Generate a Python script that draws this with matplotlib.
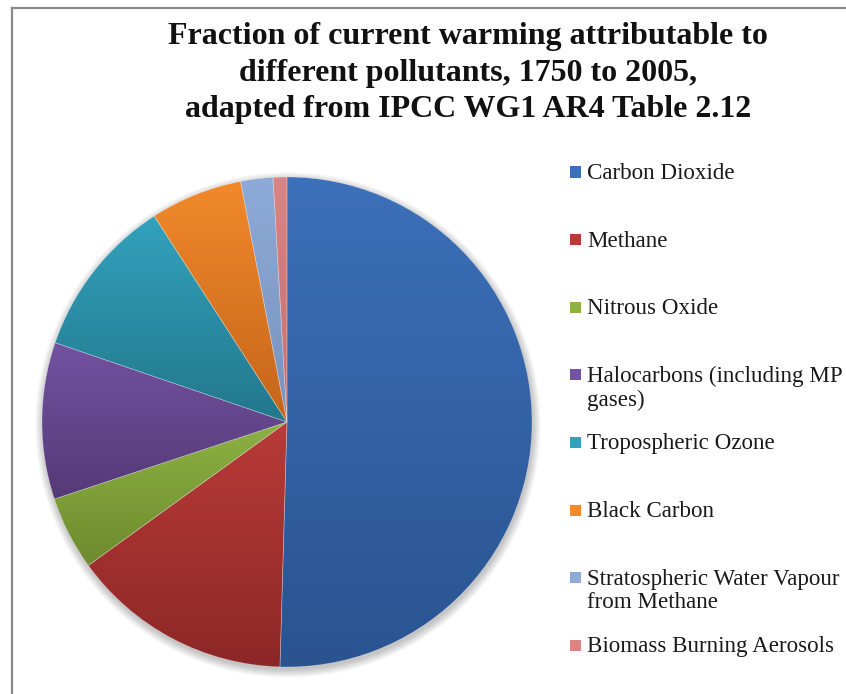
import numpy as np
import matplotlib.pyplot as plt
from matplotlib.colors import LinearSegmentedColormap
from matplotlib.patches import Circle, Rectangle
from matplotlib.lines import Line2D

# Радиационный форсинг, Вт/м2 (IPCC AR4, табл. 2.12)
labels = ['Carbon Dioxide', 'Methane', 'Nitrous Oxide',
          'Halocarbons (including MP\ngases)', 'Tropospheric Ozone',
          'Black Carbon', 'Stratospheric Water Vapour\nfrom Methane',
          'Biomass Burning Aerosols']
forcing = [1.66, 0.48, 0.16, 0.34, 0.35, 0.20, 0.07, 0.03]

# верх / низ градиента каждого сектора
top_colors = ['#3C70BA', '#B93B38', '#8DB243', '#7352A1', '#33A2BD', '#F2892B', '#8EAAD8', '#DA8584']
bottom_colors = ['#2A5390', '#8C2727', '#6D8B2E', '#553977', '#22778C', '#C4651B', '#7892BC', '#C46E6E']

title = ('Fraction of current warming attributable to\n'
         'different pollutants, 1750 to 2005,\n'
         'adapted from IPCC WG1 AR4 Table 2.12')

plt.rcParams['font.family'] = ['Liberation Serif', 'DejaVu Serif']

W, H = 846, 694
fig = plt.figure(figsize=(W / 100, H / 100), dpi=100)

# рамка области диаграммы (обрезана справа и снизу)
fig.add_artist(Line2D([12 / W, 12 / W], [0, 1 - 8 / H], color='#8a8a8a', lw=1.6))
fig.add_artist(Line2D([12 / W, 1], [1 - 8 / H, 1 - 8 / H], color='#8a8a8a', lw=1.6))

fig.text(468 / W, 1 - 22 / H, title, ha='center', va='top', fontsize=23,
         fontweight='bold', linespacing=1.35, color='#111111')

# круг: центр и радиус в пикселях
R, cx, cy, lim = 245, 287, 422, 1.06
ax = fig.add_axes([(cx - R * lim) / W, (H - cy - R * lim) / H, 2 * R * lim / W, 2 * R * lim / H])

# мягкая тень
for k in range(10):
    ax.add_patch(Circle((0.004, -0.012), 1 + 0.0035 * k, color='black', alpha=0.025, lw=0, zorder=0))

wedges, _ = ax.pie(forcing, startangle=90, counterclock=False, colors=bottom_colors,
                   radius=1, wedgeprops=dict(linewidth=0))

grad = np.linspace(0, 1, 256).reshape(-1, 1)
for w, c0, c1 in zip(wedges, top_colors, bottom_colors):
    ext = w.get_path().get_extents()
    cmap = LinearSegmentedColormap.from_list('g', [c1, c0])
    im = ax.imshow(grad, extent=[ext.x0, ext.x1, ext.y0, ext.y1], origin='lower',
                   cmap=cmap, aspect='auto', zorder=2, interpolation='bilinear')
    im.set_clip_path(w)
    w.set_facecolor('none')
    w.set_edgecolor((1, 1, 1, 0.3))
    w.set_linewidth(0.5)
    w.set_zorder(3)

ax.set_xlim(-lim, lim)
ax.set_ylim(-lim, lim)
ax.set_aspect('equal')
ax.axis('off')

# легенда: равный шаг по первой строке
y0, step = 172, 67.6
for i, (lab, col) in enumerate(zip(labels, top_colors)):
    yc = y0 + i * step
    fig.add_artist(Rectangle((570 / W, 1 - (yc + 5.5) / H), 11 / W, 11 / H,
                             facecolor=col, edgecolor='none'))
    fig.text(587 / W, 1 - (yc - 9) / H, lab, ha='left', va='top', fontsize=16.6,
             linespacing=1.18, color='#1a1a1a')

fig.savefig('out.png', dpi=100)
